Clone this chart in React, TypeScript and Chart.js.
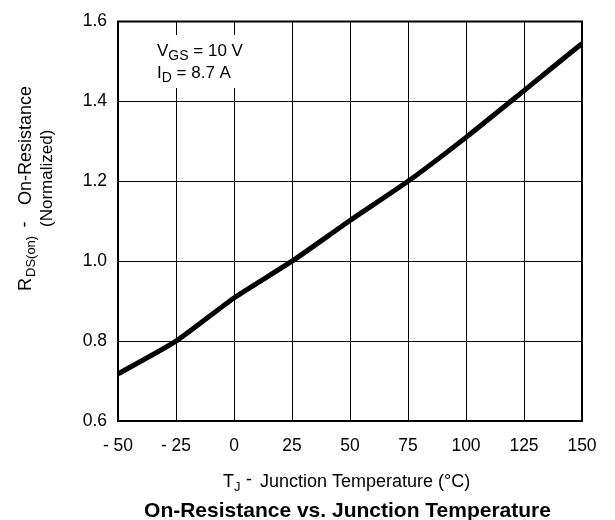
import React, { useEffect, useRef } from "react";
import { Chart, registerables } from "chart.js";

Chart.register(...registerables);

const temperatures = [-50, -25, 0, 25, 50, 75, 100, 125, 150];
const rdsOnNormalized = [0.718, 0.8, 0.908, 1.0, 1.102, 1.2, 1.31, 1.427, 1.545];
const xTickValues = [-50, -25, 0, 25, 50, 75, 100, 125, 150];
const yTickValues = [0.6, 0.8, 1.0, 1.2, 1.4, 1.6];

const FONT = "'Liberation Sans', Arial, Helvetica, sans-serif";

function put(ctx: CanvasRenderingContext2D, s: string, x: number, y: number, size: number, align: CanvasTextAlign = "left", bold = false) {
  ctx.font = `${bold ? "bold " : ""}${size}px ${FONT}`;
  ctx.textAlign = align;
  ctx.textBaseline = "alphabetic";
  ctx.fillStyle = "#000";
  ctx.fillText(s, x, y);
  return ctx.measureText(s).width;
}

// draws main text, subscript, rest sequentially from x
function rich(ctx: CanvasRenderingContext2D, main: string, sub: string, rest: string, x: number, y: number, size: number, subSize: number, subDrop: number) {
  let cx = x;
  cx += put(ctx, main, cx, y, size);
  cx += put(ctx, sub, cx, y + subDrop, subSize);
  put(ctx, rest, cx, y, size);
}

const textPlugin = {
  id: "textPlugin",
  beforeDatasetsDraw(chart: any) {
    const { ctx, chartArea: a } = chart;
    ctx.save();
    ctx.strokeStyle = "#000";
    ctx.lineWidth = 2;
    ctx.strokeRect(a.left, a.top, a.right - a.left, a.bottom - a.top);
    ctx.fillStyle = "#fff";
    ctx.fillRect(150, 35, 105, 53);
    ctx.restore();
  },
  afterDraw(chart: any) {
    const { ctx } = chart;
    ctx.save();
    // annotation
    rich(ctx, "V", "GS", " = 10 V", 157, 56, 17, 14, 4);
    rich(ctx, "I", "D", " = 8.7 A", 157, 78, 17, 14, 4);

    // x axis title
    put(ctx, "T", 223, 487, 18);
    put(ctx, "J", 234, 490.5, 13);
    put(ctx, "-", 249, 485, 18, "center");
    put(ctx, "Junction Temperature (°C)", 260, 487, 18);

    // chart title
    put(ctx, "On-Resistance vs. Junction Temperature", 347.5, 516.5, 21, "center", true);

    // y axis title (rotated)
    ctx.save();
    ctx.translate(31, 0);
    ctx.rotate(-Math.PI / 2);
    put(ctx, "R", -291, 0, 18);
    put(ctx, "DS(on)", -277, 4, 13);
    put(ctx, "-", -224.5, -1, 18, "center");
    put(ctx, "On-Resistance", -205, 0, 18);
    ctx.restore();
    ctx.save();
    ctx.translate(51.5, 0);
    ctx.rotate(-Math.PI / 2);
    put(ctx, "(Normalized)", -227, 0, 17);
    ctx.restore();

    ctx.restore();
  },
};

export default function App() {
  const ref = useRef<HTMLCanvasElement>(null);
  useEffect(() => {
    document.body.style.margin = "0";
    const chart = new Chart(ref.current!, {
      type: "line",
      data: {
        datasets: [
          {
            data: temperatures.map((t, i) => ({ x: t, y: rdsOnNormalized[i] })),
            borderColor: "#000",
            borderWidth: 5,
            pointRadius: 0,
            tension: 0.2,
            fill: false,
          },
        ],
      },
      options: {
        animation: false,
        responsive: false,
        layout: { padding: { left: 0, right: 33, top: 18, bottom: 0 } },
        plugins: { legend: { display: false }, tooltip: { enabled: false }, title: { display: false } },
        scales: {
          x: {
            type: "linear",
            min: -50,
            max: 150,
            afterFit: (s: any) => {
              s.height = 99;
            },
            afterBuildTicks: (s: any) => {
              s.ticks = xTickValues.map((v) => ({ value: v }));
            },
            ticks: {
              padding: 15,
              color: "#000",
              font: { family: FONT, size: 17.5 },
              maxRotation: 0,
              autoSkip: false,
              callback: (v: any) => (Number(v) < 0 ? "- " + Math.abs(Number(v)) : String(v)),
            },
            grid: { color: "#000", lineWidth: 1, drawTicks: false },
            border: { display: false },
          },
          y: {
            type: "linear",
            min: 0.6,
            max: 1.6,
            afterFit: (s: any) => {
              s.width = 118;
            },
            afterBuildTicks: (s: any) => {
              s.ticks = yTickValues.map((v) => ({ value: v }));
            },
            ticks: {
              padding: 11,
              color: "#000",
              font: { family: FONT, size: 17.5 },
              autoSkip: false,
              callback: (v: any) => Number(v).toFixed(1),
            },
            grid: { color: "#000", lineWidth: 1, drawTicks: false },
            border: { display: false },
          },
        },
      },
      plugins: [textPlugin],
    });
    return () => chart.destroy();
  }, []);
  return (
    <div style={{ width: 615, height: 520 }}>
      <canvas ref={ref} width={615} height={520} />
    </div>
  );
}
